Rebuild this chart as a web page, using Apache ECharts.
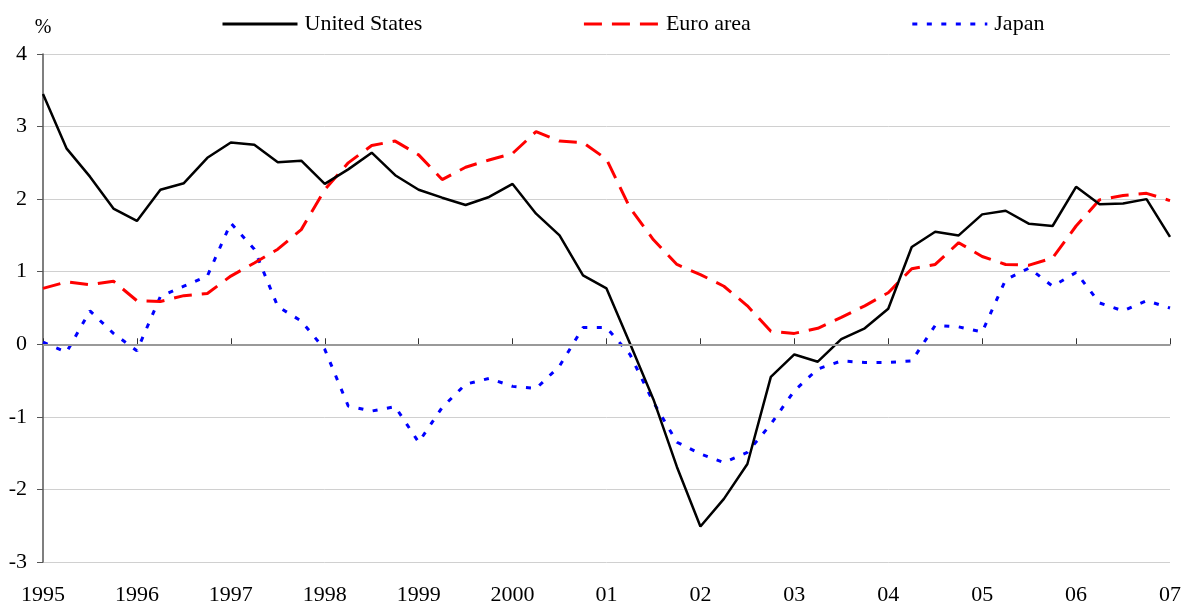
<!DOCTYPE html>
<html>
<head>
<meta charset="utf-8">
<script src="https://cdn.jsdelivr.net/npm/echarts@6/dist/echarts.min.js"></script>
<style>
  html, body { margin: 0; padding: 0; background: #fff; }
  #chart { width: 1184px; height: 607px; }
</style>
</head>
<body>
<div id="chart"></div>
<script>
// quarterly, 1995Q1 .. 2007Q1
const yearLabels = ['1995', '1996', '1997', '1998', '1999', '2000', '01', '02', '03', '04', '05', '06', '07']
const quarters = []
for (let y = 0; y < yearLabels.length; y++) {
  for (let q = 1; q <= 4; q++) {
    if (y === yearLabels.length - 1 && q > 1) break
    quarters.push(yearLabels[y] + ' Q' + q)
  }
}

const usValues = [
  3.45, 2.70, 2.31, 1.87, 1.70, 2.13, 2.22, 2.57,
  2.78, 2.75, 2.51, 2.53, 2.21, 2.41, 2.64, 2.33,
  2.13, 2.02, 1.92, 2.03, 2.21, 1.80, 1.50, 0.95,
  0.77, 0.01, -0.76, -1.69, -2.51, -2.13, -1.65, -0.45,
  -0.14, -0.24, 0.07, 0.22, 0.49, 1.34, 1.55, 1.50,
  1.79, 1.84, 1.66, 1.63, 2.17, 1.93, 1.94, 2.00,
  1.48
]
const euroValues = [
  0.77, 0.86, 0.82, 0.87, 0.60, 0.59, 0.67, 0.70,
  0.94, 1.12, 1.31, 1.58, 2.13, 2.50, 2.74, 2.80,
  2.61, 2.27, 2.44, 2.54, 2.63, 2.93, 2.80, 2.78,
  2.55, 1.88, 1.44, 1.10, 0.96, 0.80, 0.53, 0.18,
  0.15, 0.22, 0.37, 0.53, 0.71, 1.04, 1.10, 1.40,
  1.21, 1.10, 1.09, 1.19, 1.63, 1.99, 2.05, 2.08,
  1.98
]
const japanValues = [
  0.03, -0.11, 0.46, 0.15, -0.09, 0.66, 0.80, 0.94,
  1.67, 1.31, 0.52, 0.32, -0.07, -0.85, -0.92, -0.86,
  -1.35, -0.87, -0.55, -0.47, -0.58, -0.61, -0.30, 0.23,
  0.23, -0.14, -0.80, -1.35, -1.51, -1.63, -1.49, -1.10,
  -0.64, -0.34, -0.23, -0.25, -0.25, -0.23, 0.26, 0.24,
  0.17, 0.89, 1.05, 0.80, 0.99, 0.57, 0.46, 0.60,
  0.50
]

const serif = "'Liberation Serif', 'Times New Roman', serif"
const isYearStart = (idx) => idx % 4 === 0

const chart = echarts.init(document.getElementById('chart'))
chart.setOption({
  animation: false,
  backgroundColor: '#fff',
  textStyle: { fontFamily: serif, color: '#000' },
  legend: {
    left: 216,
    top: 8,
    itemWidth: 75,
    itemHeight: 14,
    itemGap: 160,
    itemStyle: { opacity: 0 },
    lineStyle: { width: 3 },
    textStyle: { fontFamily: serif, fontSize: 22, color: '#000', padding: [0, 0, 0, 2] },
    data: ['United States', 'Euro area', 'Japan']
  },
  grid: { left: 43, right: 14, top: 54, bottom: 45 },
  xAxis: {
    type: 'category',
    boundaryGap: false,
    data: quarters,
    axisLine: { lineStyle: { color: '#7f7f7f', width: 1.5 } },
    axisTick: { inside: true, length: 6, interval: isYearStart, lineStyle: { color: '#333' } },
    axisLabel: {
      interval: isYearStart,
      margin: 22,
      fontSize: 22,
      fontFamily: serif,
      color: '#000',
      formatter: (v) => v.split(' ')[0]
    },
    splitLine: { show: false }
  },
  yAxis: {
    type: 'value',
    min: -3,
    max: 4,
    interval: 1,
    name: '%',
    nameLocation: 'end',
    nameGap: 16,
    nameTextStyle: { fontFamily: serif, fontSize: 20, color: '#000', align: 'center' },
    axisLine: { show: true, lineStyle: { color: '#555', width: 1.5 } },
    axisTick: { show: true, length: 6, lineStyle: { color: '#555' } },
    axisLabel: { margin: 16, fontSize: 22, fontFamily: serif, color: '#000' },
    splitLine: { lineStyle: { color: '#d0d0d0', width: 1 } }
  },
  series: [
    {
      name: 'United States',
      type: 'line',
      data: usValues,
      symbol: 'none',
      lineStyle: { color: '#000', width: 2.5 },
      itemStyle: { color: '#000' },
      z: 4,
      markLine: {
        silent: true,
        symbol: 'none',
        label: { show: false },
        lineStyle: { color: '#999', width: 2, type: 'solid' },
        data: [{ yAxis: 0 }]
      }
    },
    {
      name: 'Euro area',
      type: 'line',
      data: euroValues,
      symbol: 'none',
      lineStyle: { color: '#ff0000', width: 3, type: [18, 10] },
      itemStyle: { color: '#ff0000' },
      z: 3
    },
    {
      name: 'Japan',
      type: 'line',
      data: japanValues,
      symbol: 'none',
      lineStyle: { color: '#0000ff', width: 3, type: [5, 9.5] },
      itemStyle: { color: '#0000ff' },
      z: 2
    }
  ]
})
</script>
</body>
</html>
